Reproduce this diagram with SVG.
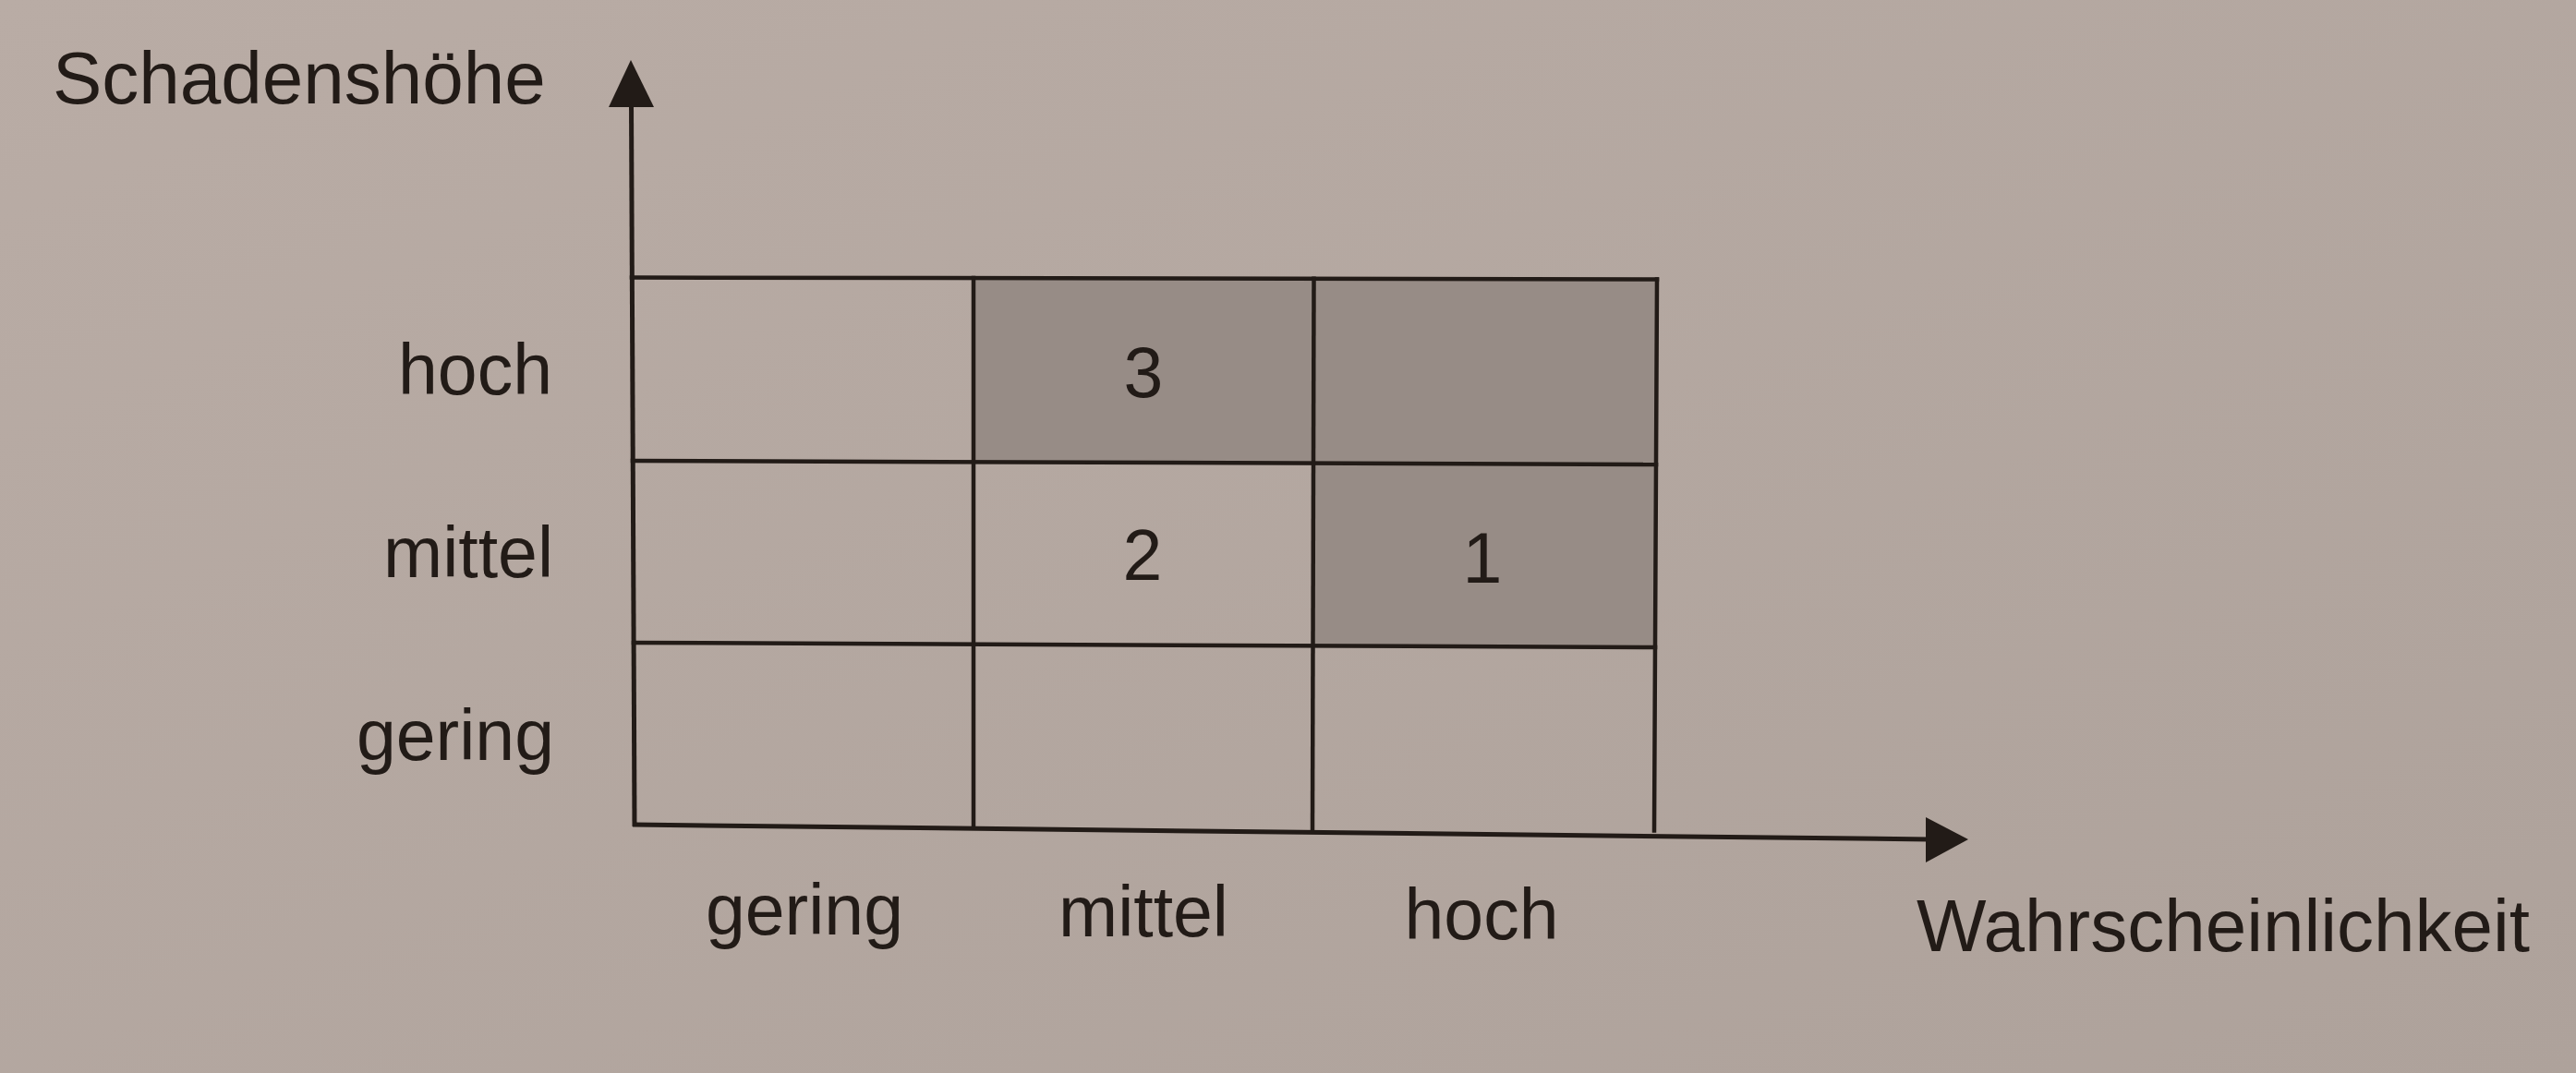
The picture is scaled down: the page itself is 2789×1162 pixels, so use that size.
<svg xmlns="http://www.w3.org/2000/svg" width="2789" height="1162" viewBox="0 0 2789 1162">
  <defs>
    <linearGradient id="paper" x1="0" y1="0" x2="1" y2="1">
      <stop offset="0" stop-color="#b9aca5"/>
      <stop offset="1" stop-color="#aea29b"/>
    </linearGradient>
    <style>
      .lbl { font-family: "Liberation Sans", Arial, Helvetica, sans-serif; fill: #221b17; }
      .axis-title { font-size: 80px; }
      .tick { font-size: 77px; }
      .num { font-size: 77px; text-anchor: middle; }
      .grid { stroke: #221b17; stroke-width: 4.5; fill: none; stroke-linecap: square; }
      .shade { fill: #978c86; stroke: none; }
      .axis { stroke: #221b17; stroke-width: 5; fill: none; }
      .head { fill: #221b17; stroke: none; }
    </style>
  </defs>

  <rect x="0" y="0" width="2789" height="1162" fill="url(#paper)"/>

  <!-- matrix cells -->
  <g id="cells">
    <g id="cell-hoch-gering"></g>
    <g id="cell-hoch-mittel">
      <polygon class="shade" points="1054,301.2 1422.5,301.8 1422,501.7 1054,500.3"/>
      <text class="lbl num" x="1238" y="430">3</text>
    </g>
    <g id="cell-hoch-hoch">
      <polygon class="shade" points="1422.5,301.8 1794,302.5 1793,503 1422,501.7"/>
    </g>
    <g id="cell-mittel-gering"></g>
    <g id="cell-mittel-mittel">
      <text class="lbl num" x="1237" y="628">2</text>
    </g>
    <g id="cell-mittel-hoch">
      <polygon class="shade" points="1422,501.7 1793,503 1792,701 1421.5,699.3"/>
      <text class="lbl num" x="1605" y="631">1</text>
    </g>
    <g id="cell-gering-gering"></g>
    <g id="cell-gering-mittel"></g>
    <g id="cell-gering-hoch"></g>
  </g>

  <!-- grid lines -->
  <g id="grid">
    <line class="grid" x1="684" y1="300.5" x2="1794" y2="302.5"/>
    <line class="grid" x1="685" y1="499" x2="1793" y2="503"/>
    <line class="grid" x1="686" y1="696" x2="1792" y2="701"/>
    <line class="grid" x1="1054" y1="301" x2="1054" y2="895"/>
    <line class="grid" x1="1422.5" y1="301.8" x2="1421" y2="897.3"/>
    <line class="grid" x1="1794" y1="302.5" x2="1791" y2="899.5"/>
  </g>

  <!-- axes (connectors) -->
  <g id="connectors">
    <g id="y-axis">
      <line class="axis" x1="687" y1="895" x2="683.5" y2="112"/>
      <polygon class="head" points="683,65 708,116 659,116"/>
    </g>
    <g id="x-axis">
      <line class="axis" x1="685" y1="893" x2="2090" y2="909"/>
      <polygon class="head" points="2131,909 2085,885 2085,934"/>
    </g>
  </g>

  <!-- axis titles -->
  <g id="title-y">
    <text class="lbl axis-title" x="57" y="112">Schadenshöhe</text>
  </g>
  <g id="title-x">
    <text class="lbl axis-title" x="2075" y="1030">Wahrscheinlichkeit</text>
  </g>

  <!-- row labels -->
  <g id="row-labels">
    <text class="lbl tick" x="598" y="427" text-anchor="end">hoch</text>
    <text class="lbl tick" x="599" y="625" text-anchor="end">mittel</text>
    <text class="lbl tick" x="600" y="823" text-anchor="end">gering</text>
  </g>

  <!-- column labels -->
  <g id="col-labels">
    <text class="lbl tick" x="871" y="1012" text-anchor="middle">gering</text>
    <text class="lbl tick" x="1238" y="1014" text-anchor="middle">mittel</text>
    <text class="lbl tick" x="1604" y="1017" text-anchor="middle">hoch</text>
  </g>
</svg>
